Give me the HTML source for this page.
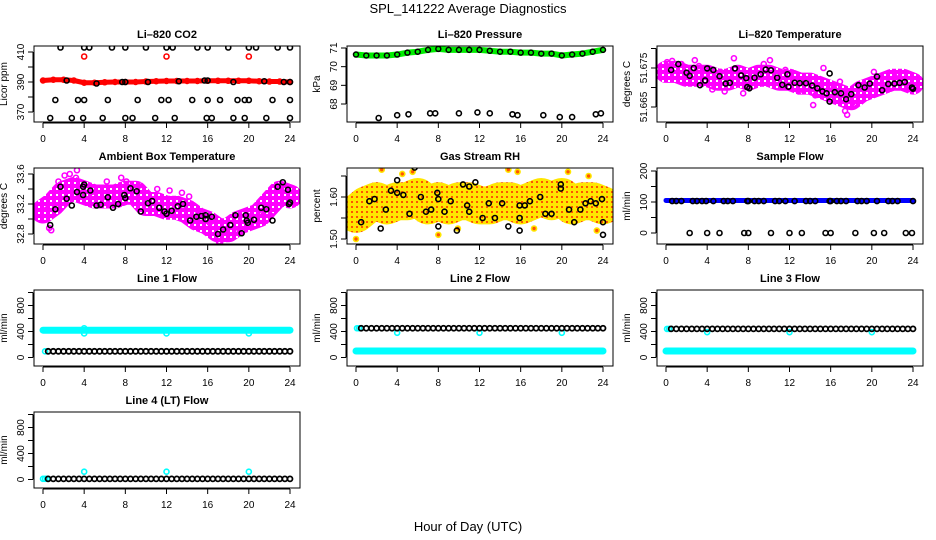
<!DOCTYPE html>
<html><head><meta charset="utf-8"><style>
html,body{margin:0;padding:0;background:#fff;}
svg{display:block;font-family:"Liberation Sans",Arial,sans-serif;}
</style></head><body>
<svg id="c" width="936" height="540" viewBox="0 0 936 540" xmlns="http://www.w3.org/2000/svg">
<defs>
<pattern id="rhpat" width="5" height="5" patternUnits="userSpaceOnUse">
<rect width="5" height="5" fill="#ffe600"/><rect x="1" y="1" width="2" height="2" fill="#ff5500"/>
</pattern>
<pattern id="magpat" width="6" height="6" patternUnits="userSpaceOnUse">
<rect width="6" height="6" fill="#ff00ff"/><rect x="2" y="2" width="2" height="2" fill="#ffffff"/>
</pattern>
</defs>
<text x="468" y="13" text-anchor="middle" font-size="13">SPL_141222  Average Diagnostics</text>
<text x="468" y="531" text-anchor="middle" font-size="13">Hour of Day (UTC)</text>
</svg>
<script>
// ---------- data ----------
const hours = [0,1,2,3,4,5,6,7,8,9,10,11,12,13,14,15,16,17,18,19,20,21,22,23,24];
const halfHours = [0.5,1,1.5,2,2.5,3,3.5,4,4.5,5,5.5,6,6.5,7,7.5,8,8.5,9,9.5,10,10.5,11,11.5,12,12.5,13,13.5,14,14.5,15,15.5,16,16.5,17,17.5,18,18.5,19,19.5,20,20.5,21,21.5,22,22.5,23,23.5,24];

const co2Band = [391,391.5,391.5,391,389.5,389.5,389.8,390,390,390,390.3,390.5,390.7,390.7,390.7,390.7,390.8,390.8,390.8,390.8,390.8,390.5,390.3,390.3,390];
const co2RedOutT = [4,12,20];
const co2RedOutV = [407,407,407];
const co2BlackT = [1.7,4,4.5,6.7,8,10,12,12.6,15,16,18,20,20.7,22.8,24, 2.3,5.2,7.7,8,10.2,13.2,15.7,16,18.5,21.5,23.4,24, 1.2,3.4,4,6.3,9.2,11.5,12.2,14.5,16,17.2,18.9,19.6,20,22.3,24, 0.7,2.8,3.9,5.8,8,8.7,10.9,12.8,15.9,16.4,18.5,19.6,21.7,24];
const co2BlackV = [413,413,413,413,413,413,413,413,413,413,413,413,413,413,413, 391,389,390,390,390,390.5,391,391,390,390.5,390,390, 378,378,378,378,378,378,378,378,378,378,378,378,378,378,378, 366,366,366,366,366,366,366,366,366,366,366,366,366,366];

const presBand = [70.65,70.6,70.6,70.6,70.65,70.75,70.8,70.9,70.95,70.9,70.9,70.9,70.9,70.85,70.8,70.8,70.75,70.75,70.7,70.7,70.6,70.65,70.7,70.8,70.9];
const presOutT = [2.2,4,5.1,7.2,7.7,10,11.8,13,15.2,15.7,18.2,19.8,21,23.3,23.8];
const presOutV = [67.25,67.4,67.45,67.5,67.5,67.5,67.55,67.5,67.45,67.4,67.4,67.3,67.3,67.45,67.5];

const ltBand = [51.674,51.674,51.673,51.673,51.673,51.672,51.672,51.673,51.672,51.673,51.673,51.672,51.672,51.671,51.671,51.670,51.669,51.668,51.667,51.669,51.670,51.671,51.672,51.672,51.671];
const ltBlackT = [0.5,1.2,2,2.3,2.7,3.3,3.8,4,4.6,5.2,5.8,6.2,6.7,7.3,7.8,7.9,8.1,8.6,9.2,9.7,10.2,10.8,11.3,11.8,11.9,12.5,13,13.6,14.2,14.7,15.2,15.6,15.9,15.9,16.4,17,17.5,18,18.7,19.3,19.8,20.5,21,21.6,22.2,22.7,23.2,23.9,24];
const ltBlackV = [51.6745,51.6760,51.6738,51.6730,51.6750,51.6706,51.6718,51.6749,51.6745,51.6729,51.6710,51.6712,51.6749,51.6731,51.6724,51.6701,51.6698,51.6725,51.6734,51.6746,51.6744,51.6725,51.6707,51.6734,51.6702,51.6712,51.6711,51.6711,51.6705,51.6698,51.6690,51.6685,51.6736,51.6664,51.6688,51.6685,51.6670,51.6683,51.6706,51.6700,51.6710,51.6728,51.6693,51.6709,51.6710,51.6712,51.6714,51.6700,51.6697];
const ltMagT = [0.1,0.6,1.5,2.8,3.2,4.5,5.7,6.6,7.5,9.5,10.1,11.6,12.9,14.3,15.3,16.3,17.4,17.6,18.5,19.4,20.2,21.5,22.6,23.5,14.5,8.1,5.3,16.9];
const ltMagV = [51.6765,51.6768,51.6760,51.6770,51.6755,51.6695,51.6690,51.6775,51.6685,51.6760,51.6770,51.6745,51.6690,51.6655,51.6750,51.6700,51.6640,51.6630,51.6660,51.6700,51.6740,51.6700,51.6735,51.6695,51.6680,51.6700,51.6740,51.6715];

const ambBand = [33.1,33.2,33.35,33.4,33.35,33.3,33.3,33.3,33.35,33.35,33.2,33.2,33.15,33.15,33.1,33.0,32.95,32.85,32.85,32.95,33.0,33.05,33.2,33.35,33.3];
const ambBlackT = [0.7,1.2,1.7,2.3,2.8,3.3,3.9,3.9,4,4.6,5.2,5.6,6.3,6.8,7.3,7.9,8,8.5,9.1,9.5,10.2,10.6,11.3,11.8,12,12.5,13.1,13.6,14.3,14.9,15.4,15.8,15.8,16.4,17,17.5,18.2,18.7,19.3,19.7,19.8,19.9,20.5,21.2,21.7,22.3,22.8,23.3,23.8,23.9,24];
const ambBlackV = [32.92,33.13,33.43,33.27,33.18,33.36,33.32,33.43,33.46,33.38,33.18,33.19,33.29,33.15,33.2,33.32,33.28,33.41,33.37,33.1,33.21,33.24,33.15,33.1,33.07,33.11,33.17,33.2,32.98,33.03,33.04,33.05,33.0,33.03,32.8,32.86,32.92,33.05,32.81,33.05,32.98,32.95,32.99,33.15,33.13,32.98,33.43,33.49,33.39,33.2,33.22];
const ambMagT = [0.1,0.6,1.5,2.1,2.6,3.2,4.9,6.2,7.6,8.1,9.4,11.1,12.3,13.5,14.2,15.1,16.2,17.1,18.3,19.1,20.1,21.4,22.4,23.1,0.8,3.3,17.2];
const ambMagV = [33.18,32.88,33.5,33.58,33.6,33.55,33.3,33.5,33.55,33.5,33.45,33.4,33.38,33.35,33.3,33.1,32.95,32.7,32.75,32.85,33.1,33.1,33.1,33.45,32.85,33.65,32.68];

const rhBand = [1.56,1.58,1.59,1.58,1.59,1.59,1.60,1.58,1.59,1.58,1.59,1.59,1.58,1.58,1.59,1.59,1.58,1.59,1.60,1.59,1.60,1.58,1.59,1.59,1.58];
const rhBlackT = [0.5,1.3,1.8,2.4,2.9,3.4,4,4,4.6,5.2,5.7,6.3,6.8,7.3,7.9,8,8,8.6,9.2,9.8,10.4,10.8,11,11,11.6,12.3,12.9,13.5,14.2,14.8,15.9,15.9,15.9,16.4,16.9,17.4,17.9,18.4,19,19.9,19.9,20.7,21.2,21.8,22.3,22.8,23.3,23.9,24,24];
const rhBlackV = [1.54,1.59,1.595,1.525,1.57,1.615,1.64,1.61,1.605,1.56,1.67,1.60,1.565,1.57,1.61,1.595,1.53,1.565,1.59,1.52,1.63,1.58,1.625,1.565,1.635,1.55,1.585,1.55,1.585,1.53,1.52,1.58,1.55,1.58,1.59,1.68,1.60,1.56,1.56,1.62,1.63,1.57,1.54,1.57,1.585,1.59,1.585,1.595,1.54,1.51];
const rhOutT = [0,2.5,4.5,5.5,8,9.9,14.8,15.7,17.3,20.6,22.6,23.1,23.4];
const rhOutV = [1.50,1.665,1.655,1.66,1.51,1.525,1.665,1.66,1.525,1.66,1.65,1.69,1.52];

const sfBand = [105,105,105,105,105,105,105,105,105,105,105,105,105,105,105,105,105,105,105,105,105,105,105,105,105];
const sfBlackT = [0.6,1,1.5,2.6,3,3.5,3.9,4.6,5.6,6,6.5,7.9,8,8.6,9,9.5,10.6,11,11.6,12.5,13.6,14,14.5,15.9,16,16.6,17,17.5,18.6,19,19.5,20.5,21.6,22,22.5,24];
const sfBlackV = [103,103,103,103,103,103,103,103,103,103,103,103,103,103,103,103,103,103,103,103,103,103,103,103,103,103,103,103,103,103,103,103,103,103,103,103];
const sfZeroT = [2.3,4,5.2,7.6,8,10.2,12,13.2,15.5,16,18.4,20.2,21.2,23.3,23.9];
const sfZeroV = [0,0,0,0,0,0,0,0,0,0,0,0,0,0,0];

const l1Cyan = [420,420,420,420,420,420,420,420,420,420,420,420,420,420,420,420,420,420,420,420,420,420,420,420,420];
const l1Black = [95,95,95,95,95,95,95,95,95,95,95,95,95,95,95,95,95,95,95,95,95,95,95,95,95,95,95,95,95,95,95,95,95,95,95,95,95,95,95,95,95,95,95,95,95,95,95,95];
const l1OutT = [4,4,12,20,0.2];
const l1OutV = [370,450,370,370,95];

const l2Cyan = [100,100,100,100,100,100,100,100,100,100,100,100,100,100,100,100,100,100,100,100,100,100,100,100,100];
const l2Black = [450,450,450,450,450,450,450,450,450,450,450,450,450,450,450,450,450,450,450,450,450,450,450,450,450,450,450,450,450,450,450,450,450,450,450,450,450,450,450,450,450,450,450,450,450,450,450,450];
const l2OutT = [0.1,0.3,4,12,20];
const l2OutV = [450,450,380,380,380];

const l3Cyan = [100,100,100,100,100,100,100,100,100,100,100,100,100,100,100,100,100,100,100,100,100,100,100,100,100];
const l3Black = [440,440,440,440,440,440,440,440,440,440,440,440,440,440,440,440,440,440,440,440,440,440,440,440,440,440,440,440,440,440,440,440,440,440,440,440,440,440,440,440,440,440,440,440,440,440,440,440];
const l3OutT = [0.1,0.3,4,12,20];
const l3OutV = [440,440,390,390,390];

const l4Black = [10,10,10,10,10,10,10,10,10,10,10,10,10,10,10,10,10,10,10,10,10,10,10,10,10,10,10,10,10,10,10,10,10,10,10,10,10,10,10,10,10,10,10,10,10,10,10,10];
const l4OutT = [0,0.2,0.4,4,12,20];
const l4OutV = [10,10,10,120,120,120];

const xTicks = [0,4,8,12,16,20,24];

// ---------- drawing ----------
const svg = document.getElementById('c');
const NS = 'http://www.w3.org/2000/svg';
function mk(tag, attrs, parent){
  const e = document.createElementNS(NS, tag);
  for (const k in attrs) e.setAttribute(k, attrs[k]);
  (parent || svg).appendChild(e);
  return e;
}
const colLeft = [34, 347, 657];
const rowTop = [46, 168, 290, 412];
const W = 266, H = 76;

function panel(name, col, row, title, ylab, v1, p1, v2, p2, ticks, labels){
  const L = colLeft[col], T = rowTop[row];
  const g = mk('g', {});
  
  
  const x = t => L + 9 + t * (247 / 24);
  const y = v => T + p1 + (v - v1) * (p2 - p1) / (v2 - v1);
  const tt = mk('text', {x: L + W/2, y: T - 8, 'text-anchor': 'middle', 'font-size': 11, 'font-weight': 'bold'}, g);
  tt.textContent = title;
  
  
  const yl = mk('text', {x: 0, y: 0, transform: `translate(${L-27},${T+H/2}) rotate(-90)`, 'text-anchor': 'middle', 'font-size': 10}, g);
  yl.textContent = ylab;
  
  
  const ya = mk('line', {x1: L-1, x2: L-1, y1: y(ticks[0]), y2: y(ticks[ticks.length-1]), stroke: '#000'}, g);
  
  
  ticks.forEach(v => {
    mk('line', {x1: L-6, x2: L-1, y1: y(v), y2: y(v), stroke: '#000'}, g);
  });
  labels.forEach(v => {
    const lt = mk('text', {x: 0, y: 0, transform: `translate(${L-10},${y(v)}) rotate(-90)`, 'text-anchor': 'middle', 'font-size': 10}, g);
    lt.textContent = String(v);
    
    
  });
  const xa = mk('line', {x1: x(0), x2: x(24), y1: T+H+1, y2: T+H+1, stroke: '#000'}, g);
  
  
  xTicks.forEach(t => {
    mk('line', {x1: x(t), x2: x(t), y1: T+H+1, y2: T+H+6, stroke: '#000'}, g);
    const lt = mk('text', {x: x(t), y: T+H+20, 'text-anchor': 'middle', 'font-size': 10}, g);
    lt.textContent = String(t);
    
    
  });
  const clip = mk('clipPath', {id: 'clip-' + name}, g);
  mk('rect', {x: L, y: T, width: W, height: H}, clip);
  const plot = mk('g', {'clip-path': `url(#clip-${name})`}, g);
  
  
  const box = mk('rect', {x: L, y: T, width: W, height: H, fill: 'none', stroke: '#000'}, g);
  
  
  return {x, y, plot};
}
function band(P, name, ts, vs, color, width){
  const pts = ts.map((t, i) => `${P.x(t)},${P.y(vs[i])}`).join(' ');
  const pl = mk('polyline', {points: pts, fill: 'none', stroke: color, 'stroke-width': width, 'stroke-linecap': 'round', 'stroke-linejoin': 'round'}, P.plot);
  
  
}
function pts(P, name, ts, vs, color, r, sw, fill){
  ts.forEach((t, i) => {
    const c = mk('circle', {cx: P.x(t), cy: P.y(vs[i]), r: r || 2.5, fill: fill || 'none', stroke: color, 'stroke-width': sw || 1.6}, P.plot);
    
    
  });
}

let P = panel('co2', 0, 0, 'Li\u2013820 CO2', 'Licor ppm', 410, 6, 370, 66, [370,380,390,400,410], [370,390,410]);
band(P, 'co2-band', hours, co2Band, '#ff0000', 5);
pts(P, 'co2-band-point', hours, co2Band, '#ff0000', 2.5, 1.5);
pts(P, 'co2-red-outlier', co2RedOutT, co2RedOutV, '#ff0000');
pts(P, 'co2-black-point', co2BlackT, co2BlackV, '#000');

P = panel('pressure', 1, 0, 'Li\u2013820 Pressure', 'kPa', 71, 2, 68, 58, [68,69,70,71], [68,69,70,71]);
band(P, 'pressure-band', hours, presBand, '#00ee00', 6);
pts(P, 'pressure-black-point', hours, presBand, '#000', 2.5, 1.5);
pts(P, 'pressure-outlier', presOutT, presOutV, '#000');

P = panel('licor-temp', 2, 0, 'Li\u2013820 Temperature', 'degrees C', 51.675, 22, 51.665, 61, [51.665,51.670,51.675,51.680], ['51.665','51.675']);
band(P, 'licor-temp-band', hours, ltBand, 'url(#magpat)', 22);
pts(P, 'licor-temp-magenta-point', ltMagT, ltMagV, '#ff00ff');
pts(P, 'licor-temp-black-point', ltBlackT, ltBlackV, '#000');

P = panel('ambient-temp', 0, 1, 'Ambient Box Temperature', 'degrees C', 33.6, 6, 32.8, 66, [32.8,33.0,33.2,33.4,33.6], ['32.8','33.2','33.6']);
band(P, 'ambient-temp-band', hours, ambBand, 'url(#magpat)', 24);
pts(P, 'ambient-temp-magenta-point', ambMagT, ambMagV, '#ff00ff');
pts(P, 'ambient-temp-black-point', ambBlackT, ambBlackV, '#000');

P = panel('gas-rh', 1, 1, 'Gas Stream RH', 'percent', 1.60, 29, 1.50, 71, [1.50,1.55,1.60,1.65], ['1.50','1.60']);
band(P, 'gas-rh-band', hours, rhBand, 'url(#rhpat)', 38);
pts(P, 'gas-rh-outlier', rhOutT, rhOutV, '#ffe600', 2.5, 1.6, '#ff5500');
pts(P, 'gas-rh-black-point', rhBlackT, rhBlackV, '#000');

P = panel('sample-flow', 2, 1, 'Sample Flow', 'ml/min', 0, 65, 200, 3, [0,50,100,150,200], [0,100,200]);
band(P, 'sample-flow-band', hours, sfBand, '#0000ff', 5);
pts(P, 'sample-flow-black-point', sfBlackT, sfBlackV, '#000');
pts(P, 'sample-flow-zero-point', sfZeroT, sfZeroV, '#000');

const fTicks = [0,200,400,600,800,1000], fLabels = [0,400,800];
P = panel('line1-flow', 0, 2, 'Line 1 Flow', 'ml/min', 0, 67.5, 800, 15.5, fTicks, fLabels);
band(P, 'line1-cyan-band', hours, l1Cyan, '#00ffff', 7);
pts(P, 'line1-outlier', l1OutT, l1OutV, '#00ffff');
pts(P, 'line1-black-point', halfHours, l1Black, '#000', 2.5, 1.8);
P = panel('line2-flow', 1, 2, 'Line 2 Flow', 'ml/min', 0, 67.5, 800, 15.5, fTicks, fLabels);
band(P, 'line2-cyan-band', hours, l2Cyan, '#00ffff', 7);
pts(P, 'line2-outlier', l2OutT, l2OutV, '#00ffff');
pts(P, 'line2-black-point', halfHours, l2Black, '#000', 2.5, 1.8);
P = panel('line3-flow', 2, 2, 'Line 3 Flow', 'ml/min', 0, 67.5, 800, 15.5, fTicks, fLabels);
band(P, 'line3-cyan-band', hours, l3Cyan, '#00ffff', 7);
pts(P, 'line3-outlier', l3OutT, l3OutV, '#00ffff');
pts(P, 'line3-black-point', halfHours, l3Black, '#000', 2.5, 1.8);
P = panel('line4-flow', 0, 3, 'Line 4 (LT) Flow', 'ml/min', 0, 67.5, 800, 15.5, fTicks, fLabels);
pts(P, 'line4-outlier', l4OutT, l4OutV, '#00ffff');
pts(P, 'line4-black-point', halfHours, l4Black, '#000', 2.5, 1.8);
</script>
</body></html>
